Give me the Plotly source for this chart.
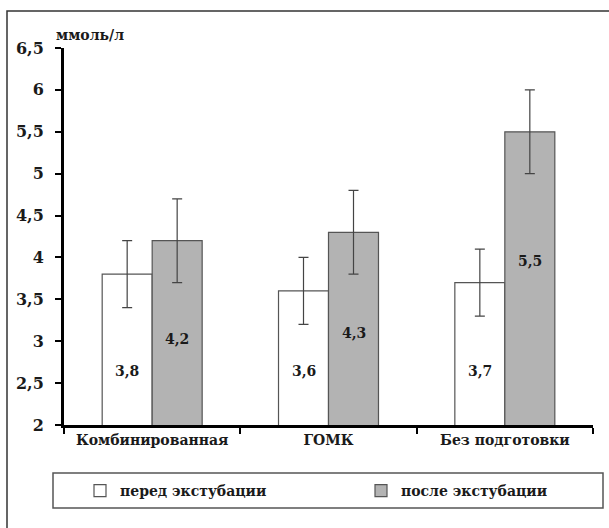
import plotly.graph_objects as go

categories = ["Комбинированная", "ГОМК", "Без подготовки"]
before_vals = [3.8, 3.6, 3.7]
after_vals = [4.2, 4.3, 5.5]
before_err = [0.4, 0.4, 0.4]
after_err = [0.5, 0.5, 0.5]
before_labels = ["3,8", "3,6", "3,7"]
after_labels = ["4,2", "4,3", "5,5"]
y_tickvals = [2, 2.5, 3, 3.5, 4, 4.5, 5, 5.5, 6, 6.5]
y_ticktext = ["2", "2,5", "3", "3,5", "4", "4,5", "5", "5,5", "6", "6,5"]
series_names = ["перед экстубации", "после экстубации"]
unit_label = "ммоль/л"

FONT = "DejaVu Serif"
TXT = "#1a1a1a"
W, H = 609, 528
ML, MR, MT, MB = 64, 16, 48, 103
PW, PH = W - ML - MR, H - MT - MB


def px_x(px):
    return (px - ML) / PW


def px_y(py):
    return (H - MB - py) / PH


fig = go.Figure()
fig.add_trace(go.Bar(
    x=categories, y=before_vals, name=series_names[0], legend="legend",
    marker=dict(color="white", line=dict(color="#555555", width=1.2)),
    error_y=dict(type="data", array=before_err, color="#444444", thickness=1.2, width=5),
))
fig.add_trace(go.Bar(
    x=categories, y=after_vals, name=series_names[1], legend="legend2",
    marker=dict(color="#b3b3b3", line=dict(color="#555555", width=1.2)),
    error_y=dict(type="data", array=after_err, color="#444444", thickness=1.2, width=5),
))

annotations = []
for c, v, t in zip(categories, before_vals, before_labels):
    annotations.append(dict(x=c, y=2.65, xref="x", yref="y", text="<b>%s</b>" % t,
                            showarrow=False, xshift=-25,
                            font=dict(family=FONT, size=14, color=TXT)))
for c, v, t in zip(categories, after_vals, after_labels):
    annotations.append(dict(x=c, y=v * 0.72, xref="x", yref="y", text="<b>%s</b>" % t,
                            showarrow=False, xshift=25,
                            font=dict(family=FONT, size=14, color=TXT)))
annotations.append(dict(x=px_x(54), y=px_y(35), xref="paper", yref="paper",
                        xanchor="left", yanchor="middle", showarrow=False,
                        text="<b>%s</b>" % unit_label,
                        font=dict(family=FONT, size=14, color=TXT)))

shapes = [
    dict(type="rect", xref="paper", yref="paper",
         x0=px_x(7), x1=px_x(640), y0=px_y(560), y1=px_y(11),
         line=dict(color="#333333", width=1.5), fillcolor="rgba(0,0,0,0)", layer="below"),
    dict(type="rect", xref="paper", yref="paper",
         x0=px_x(53), x1=px_x(603), y0=px_y(508), y1=px_y(473),
         line=dict(color="#555555", width=1.5), fillcolor="rgba(0,0,0,0)"),
]

legend_common = dict(orientation="h", xref="container", yref="container",
                     xanchor="left", y=1 - 491 / H, yanchor="middle",
                     font=dict(family=FONT, size=14, color=TXT, weight="bold"),
                     bgcolor="rgba(0,0,0,0)", borderwidth=0)

fig.update_layout(
    width=W, height=H,
    margin=dict(l=ML, r=MR, t=MT, b=MB, autoexpand=False),
    paper_bgcolor="white", plot_bgcolor="white",
    barmode="group", bargap=0.433, bargroupgap=0,
    font=dict(family=FONT, color=TXT),
    showlegend=True,
    legend=dict(x=80 / W, **legend_common),
    legend2=dict(x=361 / W, **legend_common),
    annotations=annotations,
    shapes=shapes,
    xaxis=dict(
        showline=True, linecolor="black", linewidth=3, showgrid=False,
        ticks="outside", tickson="boundaries", ticklen=6, tickwidth=2, tickcolor="black",
        tickfont=dict(family=FONT, size=14, color=TXT, weight="bold"),
        zeroline=False, automargin=False,
    ),
    yaxis=dict(
        range=[2, 6.5], showline=True, linecolor="black", linewidth=3, showgrid=False,
        tickvals=y_tickvals, ticktext=y_ticktext,
        ticks="outside", ticklen=6, tickwidth=2, tickcolor="black",
        tickfont=dict(family=FONT, size=16, color=TXT, weight="bold"),
        ticklabelstandoff=8,
        zeroline=False, automargin=False,
    ),
)

fig.write_html("out.html", config={"displayModeBar": False},
               post_script="document.body.style.margin='0';")
